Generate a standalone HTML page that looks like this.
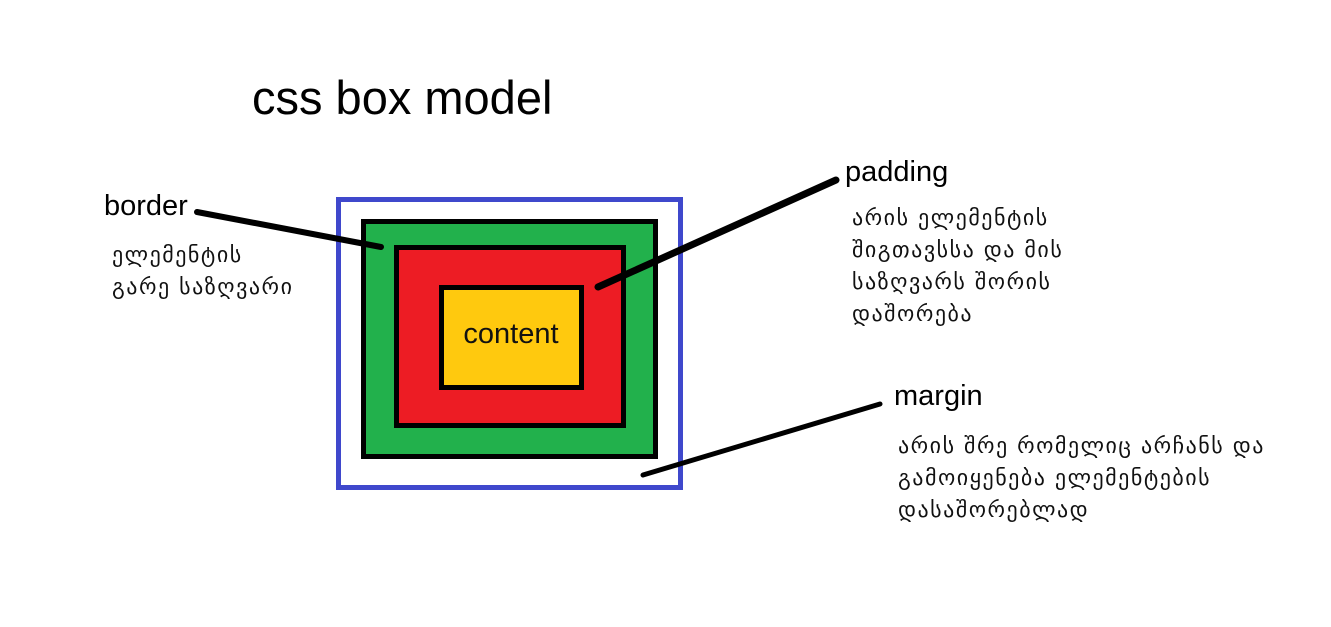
<!DOCTYPE html>
<html><head><meta charset="utf-8"><style>
html,body{margin:0;padding:0;background:#fff;}
body{width:1331px;height:627px;position:relative;overflow:hidden;font-family:"Liberation Sans","DejaVu Sans",sans-serif;color:#000;}
.t{position:absolute;white-space:nowrap;}
.g{font-family:"DejaVu Sans",sans-serif;font-size:22px;letter-spacing:1.5px;line-height:32px;color:#111;}
</style></head><body>
<svg width="1331" height="627" style="position:absolute;left:0;top:0">
<rect x="338.5" y="199.5" width="342" height="288" fill="#fff" stroke="#3f48cc" stroke-width="5"/>
<rect x="363.5" y="221.5" width="292" height="235" fill="#22b14c" stroke="#000" stroke-width="5"/>
<rect x="396.5" y="247.5" width="227" height="178" fill="#ed1c24" stroke="#000" stroke-width="5"/>
<rect x="441.5" y="287.5" width="140" height="100" fill="#ffc90e" stroke="#000" stroke-width="5"/>
<line x1="197" y1="212" x2="381" y2="247" stroke="#000" stroke-width="6" stroke-linecap="round"/>
<line x1="598" y1="287" x2="836" y2="180" stroke="#000" stroke-width="7" stroke-linecap="round"/>
<line x1="643" y1="475" x2="880" y2="404" stroke="#000" stroke-width="5" stroke-linecap="round"/>
<text x="511" y="343" font-family="Liberation Sans, DejaVu Sans, sans-serif" font-size="29" text-anchor="middle" fill="#111">content</text>
</svg>
<div class="t" style="left:252px;top:70px;font-size:47px;">css box model</div>
<div class="t" style="left:104px;top:190px;font-size:29px;">border</div>
<div class="t g" style="left:112px;top:240px;">ელემენტის<br>გარე საზღვარი</div>
<div class="t" style="left:845px;top:156px;font-size:29px;">padding</div>
<div class="t g" style="left:852px;top:203px;">არის ელემენტის<br>შიგთავსსა და მის<br>საზღვარს შორის<br>დაშორება</div>
<div class="t" style="left:894px;top:380px;font-size:29px;">margin</div>
<div class="t g" style="left:898px;top:431px;">არის შრე რომელიც არჩანს და<br>გამოიყენება ელემენტების<br>დასაშორებლად</div>
</body></html>
